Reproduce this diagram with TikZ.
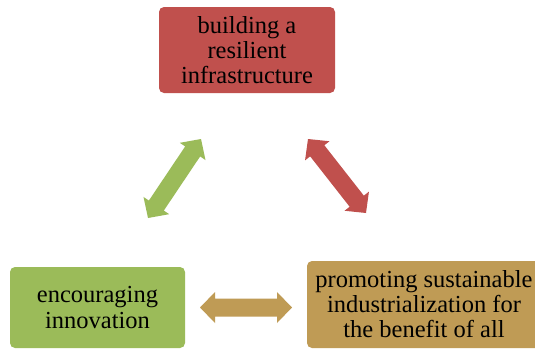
\documentclass[tikz,border=0pt]{standalone}
\usepackage{fontspec}
\setmainfont{Liberation Serif}
\usetikzlibrary{calc}
\definecolor{boxred}{HTML}{C0504D}
\definecolor{boxgreen}{HTML}{9BBB59}
\definecolor{boxgold}{HTML}{BF9B55}
% double-headed block arrow between two named points
\newcommand{\blockarrow}[3]{%
  \coordinate (#2h) at ($(#2)!15pt!(#3)$);
  \coordinate (#3h) at ($(#3)!15pt!(#2)$);
  \fill[#1] (#2) -- ($(#2h)!15.5pt!90:(#3)$) -- ($(#2h)!9pt!90:(#3)$)
    -- ($(#3h)!9pt!-90:(#2)$) -- ($(#3h)!15.5pt!-90:(#2)$) -- (#3)
    -- ($(#3h)!15.5pt!90:(#2)$) -- ($(#3h)!9pt!90:(#2)$)
    -- ($(#2h)!9pt!-90:(#3)$) -- ($(#2h)!15.5pt!-90:(#3)$) -- cycle;
}
\begin{document}
\begin{tikzpicture}[x=1pt,y=-1pt,
  goal/.style={rounded corners=5pt, align=center, inner sep=0pt,
    font=\fontsize{24.5}{25}\selectfont, text=black}]
\clip (0,0) rectangle (535,349);
\fill[white] (0,0) rectangle (535,349);

\node[goal, fill=boxred, minimum width=176pt, minimum height=86pt]
  (build) at (247,50) {building a\\resilient\\infrastructure};
\node[goal, fill=boxgreen, minimum width=175pt, minimum height=81pt]
  (innov) at (97.5,307.5) {encouraging\\innovation};
\node[goal, fill=boxgold, minimum width=234pt, minimum height=87pt]
  (indus) at (424,304.5) {promoting sustainable\\industrialization for\\the benefit of all};

\coordinate (ga) at (148,218);
\coordinate (gb) at (201,139);
\coordinate (ra) at (308,139);
\coordinate (rb) at (366,213);
\coordinate (ya) at (200,307.5);
\coordinate (yb) at (292,307.5);

\blockarrow{boxgreen}{ga}{gb}
\blockarrow{boxred}{ra}{rb}
\blockarrow{boxgold}{ya}{yb}
\end{tikzpicture}
\end{document}
